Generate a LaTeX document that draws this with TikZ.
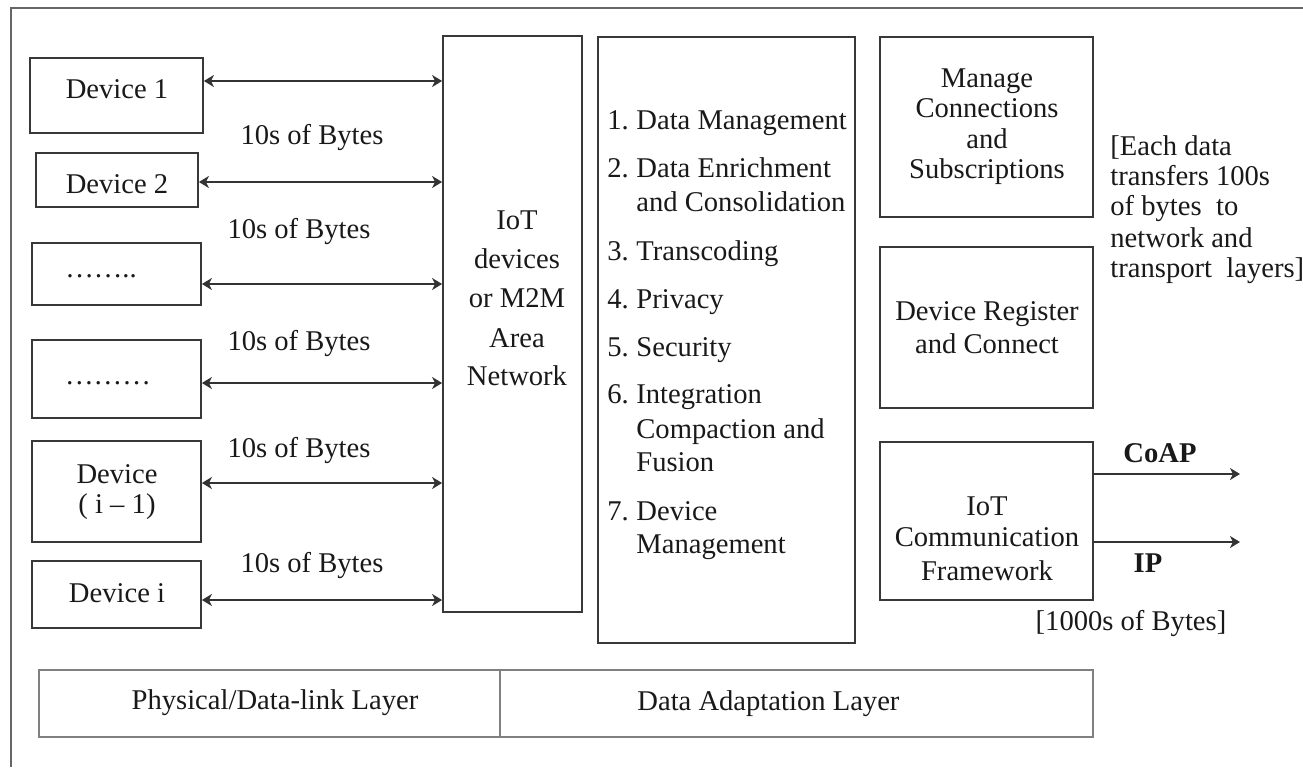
\documentclass[tikz,border=0pt]{standalone}
\usepackage{fontspec}
\setmainfont{Liberation Serif}
\usetikzlibrary{arrows.meta}
\newcommand\mytext[4]{\node[txt] (#1) at (#2,#3) {#4};}
\begin{document}
\begin{tikzpicture}[x=0.5pt,y=-0.5pt,
  box/.style={draw=black!78,line width=0.9pt,inner sep=0pt,fill=none},
  lbox/.style={draw=black!50,line width=0.9pt,inner sep=0pt},
  txt/.style={anchor=base,inner sep=0pt,text=black!90,font=\fontsize{14.3}{15}\selectfont},
  ltxt/.style={txt,anchor=base west},
  tip/.tip={Stealth[length=5pt,width=6pt,inset=1.5pt]},
  link/.style={draw=black!80,line width=0.9pt,tip-tip},
  outarrow/.style={draw=black!80,line width=0.9pt,-tip}]
\useasboundingbox (0,0) rectangle (1303,767);
\fill[white] (0,0) rectangle (1303,767);
% outer frame
\coordinate (ftr) at (1303,8);
\coordinate (ftl) at (11,8);
\coordinate (fbl) at (11,767);
\draw[black!60,line width=1pt] (ftr) -- (ftl) -- (fbl);
% device boxes
\node[box,minimum width=86.5pt,minimum height=37.5pt] (d1) at (116.5,95.5) {};
\node[box,minimum width=81pt,minimum height=27pt] (d2) at (117,180) {};
\node[box,minimum width=84.5pt,minimum height=31pt] (d3) at (116.5,274) {};
\node[box,minimum width=84.5pt,minimum height=39pt] (d4) at (116.5,379) {};
\node[box,minimum width=84.5pt,minimum height=50.5pt] (d5) at (116.5,491.5) {};
\node[box,minimum width=84.5pt,minimum height=33.5pt] (d6) at (116.5,594.5) {};
\mytext{t1}{117}{98}{Device 1}
\mytext{t2}{117}{193}{Device 2}
\mytext{t3}{101}{277}{……..}
\mytext{t4}{108}{384}{………}
\mytext{t5a}{117}{483}{Device}
\mytext{t5b}{117}{513}{( i – 1)}
\mytext{t6}{117}{602}{Device i}
% IoT area network
\node[box,minimum width=69.5pt,minimum height=288pt] (iot) at (512.5,324) {};
\mytext{i1}{517}{229}{IoT}
\mytext{i2}{517}{268}{devices}
\mytext{i3}{517}{307}{or M2M}
\mytext{i4}{517}{347}{Area}
\mytext{i5}{517}{385}{Network}
% links
\coordinate (y1) at (0,81);
\coordinate (y2) at (0,182);
\coordinate (y3) at (0,284);
\coordinate (y4) at (0,383);
\coordinate (y5) at (0,483);
\coordinate (y6) at (0,600);
\draw[link] (y1 -| d1.east) -- (y1 -| iot.west);
\draw[link] (y2 -| d2.east) -- (y2 -| iot.west);
\draw[link] (y3 -| d3.east) -- (y3 -| iot.west);
\draw[link] (y4 -| d4.east) -- (y4 -| iot.west);
\draw[link] (y5 -| d5.east) -- (y5 -| iot.west);
\draw[link] (y6 -| d6.east) -- (y6 -| iot.west);
\mytext{b1}{312}{144}{10s of Bytes}
\mytext{b2}{299}{238}{10s of Bytes}
\mytext{b3}{299}{350}{10s of Bytes}
\mytext{b4}{299}{457}{10s of Bytes}
\mytext{b5}{312}{572}{10s of Bytes}
% list box
\node[box,minimum width=128.5pt,minimum height=303pt] (list) at (726.5,340) {};
\node[ltxt] (n1) at (607,129) {1.};
\node[ltxt] (l1) at (636,129) {Data Management};
\node[ltxt] (n2) at (607,177) {2.};
\node[ltxt] (l2a) at (636,177) {Data Enrichment};
\node[ltxt] (l2b) at (636,211) {and Consolidation};
\node[ltxt] (n3) at (607,260) {3.};
\node[ltxt] (l3) at (636,260) {Transcoding};
\node[ltxt] (n4) at (607,308) {4.};
\node[ltxt] (l4) at (636,308) {Privacy};
\node[ltxt] (n5) at (607,356) {5.};
\node[ltxt] (l5) at (636,356) {Security};
\node[ltxt] (n6) at (607,403) {6.};
\node[ltxt] (l6a) at (636,403) {Integration};
\node[ltxt] (l6b) at (636,438) {Compaction and};
\node[ltxt] (l6c) at (636,471) {Fusion};
\node[ltxt] (n7) at (607,520) {7.};
\node[ltxt] (l7a) at (636,520) {Device};
\node[ltxt] (l7b) at (636,553) {Management};
% right column
\node[box,minimum width=106.5pt,minimum height=90pt] (mcs) at (986.5,127) {};
\mytext{m1}{987}{87}{Manage}
\mytext{m2}{987}{117}{Connections}
\mytext{m3}{987}{148}{and}
\mytext{m4}{987}{178}{Subscriptions}
\node[box,minimum width=106.5pt,minimum height=80.5pt] (drc) at (986.5,327.5) {};
\mytext{r1}{987}{320}{Device Register}
\mytext{r2}{987}{353}{and Connect}
\node[ltxt] (e1) at (1110,155) {[Each data};
\node[ltxt] (e2) at (1110,185) {transfers 100s};
\node[ltxt] (e3) at (1110,215) {of bytes\ \ to};
\node[ltxt] (e4) at (1110,247) {network and};
\node[ltxt] (e5) at (1110,277) {transport\ \ layers]};
\node[box,minimum width=106.5pt,minimum height=79pt] (icf) at (986.5,521) {};
\mytext{c1}{987}{515}{IoT}
\mytext{c2}{987}{546}{Communication}
\mytext{c3}{987}{580}{Framework}
\coordinate (coapend) at (1240,474);
\coordinate (ipend) at (1240,542);
\draw[outarrow] (coapend -| icf.east) -- (coapend);
\draw[outarrow] (ipend -| icf.east) -- (ipend);
\mytext{coap}{1160}{462}{\textbf{CoAP}}
\mytext{ip}{1148}{572}{\textbf{IP}}
\mytext{kb}{1131}{630}{[1000s of Bytes]}
% layer bar
\node[lbox,minimum width=527pt,minimum height=33.5pt] (layer) at (566,703.5) {};
\coordinate (divx) at (500,0);
\draw[black!50,line width=0.9pt] (divx |- layer.north) -- (divx |- layer.south);
\mytext{p1}{275}{709}{Physical/Data-link Layer}
\node[ltxt] (p2) at (637,710) {Data Adaptation Layer};
\end{tikzpicture}
\end{document}
